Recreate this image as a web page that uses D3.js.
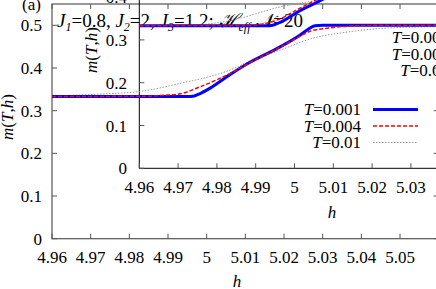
<!DOCTYPE html>
<html>
<head>
<meta charset="utf-8">
<script src="https://cdnjs.cloudflare.com/ajax/libs/d3/7.8.5/d3.min.js"></script>
<style>
  body { margin: 0; background: white; }
  svg { display: block; font-family: "Liberation Serif", "DejaVu Serif", serif; }
</style>
</head>
<body>
<svg id="chart" width="436" height="289"></svg>
<script>
// main panel, series as [h, m]
var mainT001 = [[4.96,0.3333],[4.995,0.3333],[4.9965,0.334],[4.998,0.339],[5.0009,0.3529],[5.006,0.3845],
  [5.0103,0.409],[5.019,0.4496],[5.0241,0.477],[5.0267,0.4934],[5.028,0.4993],[5.030,0.5],[5.06,0.5]];
var mainT004 = [[4.96,0.3333],[4.984,0.3338],[4.9887,0.336],[4.9931,0.3395],[4.9983,0.356],[5.006,0.387],
  [5.0105,0.409],[5.019,0.449],[5.0241,0.474],[5.0267,0.486],[5.0319,0.494],[5.0371,0.4985],[5.0448,0.5],[5.06,0.5]];
var mainT01 = [[4.96,0.3342],[4.9724,0.3389],[4.9825,0.3447],[4.9931,0.3639],[5.006,0.3951],[5.0112,0.4162],
  [5.019,0.4419],[5.0275,0.47],[5.0363,0.4842],[5.0448,0.4925],[5.0593,0.4969]];

// inset panel
var insetT001 = [[4.96,0.3333],[4.9935,0.3333],[4.9948,0.3355],[4.9963,0.341],[5.0014,0.3681],[5.0066,0.3914],[5.015,0.435]];
var insetT004 = [[4.96,0.3333],[4.986,0.3336],[4.9893,0.3345],[4.9924,0.338],[4.9963,0.3495],[5.0014,0.374],[5.0053,0.392],[5.015,0.44]];
var insetT01 = [[4.96,0.3335],[4.972,0.334],[4.9834,0.345],[4.9963,0.377],[5.0048,0.3914],[5.02,0.42]];

var mainXTicks = [4.96, 4.97, 4.98, 4.99, 5, 5.01, 5.02, 5.03, 5.04, 5.05];
var mainYTicks = [0, 0.1, 0.2, 0.3, 0.4, 0.5];
var insetXTicks = [4.96, 4.97, 4.98, 4.99, 5, 5.01, 5.02, 5.03];
var insetYTicks = [0, 0.1, 0.2, 0.3, 0.4];
var temps = ["0.001", "0.004", "0.01"];

var colors = ["#0000ff", "#ff0000", "#999999"];
var widths = [3, 1.5, 1];
var dashes = [null, "4,2", "1.5,1.5"];

var svg = d3.select("#chart");

// scales
var mx = d3.scaleLinear().domain([4.96, 5.06]).range([52, 438.7]);
var my = d3.scaleLinear().domain([0, 0.55]).range([238.7, 4]);
var ix = d3.scaleLinear().domain([4.96, 5.04]).range([139.3, 449.7]);
var iy = d3.scaleLinear().domain([0, 0.4]).range([168.3, -2.9]);

var defs = svg.append("defs");
defs.append("clipPath").attr("id", "clipMain").append("rect")
  .attr("x", 52).attr("y", 4).attr("width", 386.7).attr("height", 234.7);
defs.append("clipPath").attr("id", "clipInset").append("rect")
  .attr("x", 139.3).attr("y", -2.9).attr("width", 310.4).attr("height", 171.2);

var fs = 17;

// main frame
var mainG = svg.append("g");
mainG.append("rect")
  .attr("x", 52).attr("y", 4)
  .attr("width", 386.7).attr("height", 234.7)
  .style("fill", "none")
  .style("stroke", "#555")
  .style("stroke-width", 1.2);

mainG.selectAll(".xtb").data(mainXTicks).enter()
  .append("line")
  .attr("x1", function(d){ return mx(d); })
  .attr("x2", function(d){ return mx(d); })
  .attr("y1", 238.7).attr("y2", 233.7)
  .style("stroke", "#555");
mainG.selectAll(".xtt").data(mainXTicks).enter()
  .append("line")
  .attr("x1", function(d){ return mx(d); })
  .attr("x2", function(d){ return mx(d); })
  .attr("y1", 4).attr("y2", 9)
  .style("stroke", "#555");
mainG.selectAll(".ytl").data(mainYTicks).enter()
  .append("line")
  .attr("x1", 52).attr("x2", 57)
  .attr("y1", function(d){ return my(d); })
  .attr("y2", function(d){ return my(d); })
  .style("stroke", "#555");
mainG.selectAll(".ytr").data(mainYTicks).enter()
  .append("line")
  .attr("x1", 438.7).attr("x2", 433.7)
  .attr("y1", function(d){ return my(d); })
  .attr("y2", function(d){ return my(d); })
  .style("stroke", "#555");

mainG.selectAll(".xl").data(mainXTicks).enter()
  .append("text")
  .attr("x", function(d){ return mx(d); })
  .attr("y", 263)
  .attr("text-anchor", "middle")
  .style("font-size", fs + "px")
  .text(function(d){ return d3.format("")(d); });
mainG.selectAll(".yl").data(mainYTicks).enter()
  .append("text")
  .attr("x", 42)
  .attr("y", function(d){ return my(d) + 6; })
  .attr("text-anchor", "end")
  .style("font-size", fs + "px")
  .text(function(d){ return d3.format("")(d); });

// inset axes (only left and bottom are inside the picture)
var insG = svg.append("g");
insG.append("line")
  .attr("x1", 139.3).attr("x2", 139.3)
  .attr("y1", -3).attr("y2", 168.3)
  .style("stroke", "#000");
insG.append("line")
  .attr("x1", 139.3).attr("x2", 449.7)
  .attr("y1", 168.3).attr("y2", 168.3)
  .style("stroke", "#000");
insG.selectAll(".ixt").data(insetXTicks).enter()
  .append("line")
  .attr("x1", function(d){ return ix(d); })
  .attr("x2", function(d){ return ix(d); })
  .attr("y1", 168.3).attr("y2", 163.3)
  .style("stroke", "#555");
insG.selectAll(".iyt").data(insetYTicks).enter()
  .append("line")
  .attr("x1", 139.3).attr("x2", 144.3)
  .attr("y1", function(d){ return iy(d); })
  .attr("y2", function(d){ return iy(d); })
  .style("stroke", "#555");
insG.selectAll(".ixl").data(insetXTicks).enter()
  .append("text")
  .attr("x", function(d){ return ix(d); })
  .attr("y", 193)
  .attr("text-anchor", "middle")
  .style("font-size", fs + "px")
  .text(function(d){ return d3.format("")(d); });
insG.selectAll(".iyl").data(insetYTicks).enter()
  .append("text")
  .attr("x", 127)
  .attr("y", function(d){ return iy(d) + 6; })
  .attr("text-anchor", "end")
  .style("font-size", fs + "px")
  .text(function(d){ return d3.format("")(d); });

// labels
svg.append("text")
  .attr("x", 22).attr("y", 10)
  .style("font-size", fs + "px")
  .text("(a)");

var title = svg.append("text")
  .attr("x", 57).attr("y", 27)
  .style("font-size", "19px");
title.append("tspan").style("font-style", "italic").text("J");
title.append("tspan").style("font-style", "italic").style("font-size", "12px").attr("dy", 4).text("1");
title.append("tspan").attr("dy", -4).text("=0.8, ");
title.append("tspan").style("font-style", "italic").text("J");
title.append("tspan").style("font-style", "italic").style("font-size", "12px").attr("dy", 4).text("2");
title.append("tspan").attr("dy", -4).text("=2, ");
title.append("tspan").style("font-style", "italic").text("J");
title.append("tspan").style("font-style", "italic").style("font-size", "12px").attr("dy", 4).text("3");
title.append("tspan").attr("dy", -4).text("=1.2; ");
title.append("tspan").style("font-style", "italic").text("\u210B");
title.append("tspan").style("font-style", "italic").style("font-size", "12px").attr("dy", 4).text("eff");
title.append("tspan").attr("dy", -4).text(" ");
title.append("tspan").style("font-style", "italic").text("\u{1D4A9}");
title.append("tspan").text("=20");

function yLabel(x, y) {
  var t = svg.append("text")
    .attr("transform", "translate(" + x + "," + y + ") rotate(-90)")
    .attr("text-anchor", "middle")
    .style("font-size", fs + "px");
  t.append("tspan").style("font-style", "italic").text("m");
  t.append("tspan").text("(");
  t.append("tspan").style("font-style", "italic").text("T");
  t.append("tspan").text(",");
  t.append("tspan").style("font-style", "italic").text("h");
  t.append("tspan").text(")");
}
yLabel(13, 117);
yLabel(97, 50);

svg.append("text").attr("x", 237).attr("y", 287)
  .attr("text-anchor", "middle").style("font-size", fs + "px").style("font-style", "italic").text("h");
svg.append("text").attr("x", 332).attr("y", 218)
  .attr("text-anchor", "middle").style("font-size", fs + "px").style("font-style", "italic").text("h");

// legends
function legend(xr, y0, withSample) {
  temps.forEach(function(t, i) {
    var y = y0 + i * 16.5;
    var tx = svg.append("text")
      .attr("x", xr).attr("y", y)
      .attr("text-anchor", "end")
      .style("font-size", fs + "px");
    tx.append("tspan").style("font-style", "italic").text("T");
    tx.append("tspan").text("=" + t);
    if (withSample) {
      svg.append("line")
        .attr("x1", 373).attr("x2", 418)
        .attr("y1", y - 5.5).attr("y2", y - 5.5)
        .style("stroke", colors[i])
        .style("stroke-width", widths[i])
        .style("stroke-dasharray", dashes[i]);
    }
  });
}
legend(449, 43, false);
legend(361, 115, true);

// curves
var lineMain = d3.line()
  .x(function(d){ return mx(d[0]); })
  .y(function(d){ return my(d[1]); })
  .curve(d3.curveMonotoneX);
var lineInset = d3.line()
  .x(function(d){ return ix(d[0]); })
  .y(function(d){ return iy(d[1]); })
  .curve(d3.curveMonotoneX);

var mainSeries = [mainT01, mainT001, mainT004];
var insetSeries = [insetT01, insetT001, insetT004];
var order = [2, 0, 1];

svg.append("g").attr("clip-path", "url(#clipMain)")
  .selectAll("path").data(mainSeries).enter()
  .append("path")
  .attr("d", lineMain)
  .style("fill", "none")
  .style("stroke", function(d, i){ return colors[order[i]]; })
  .style("stroke-width", function(d, i){ return widths[order[i]]; })
  .style("stroke-dasharray", function(d, i){ return dashes[order[i]]; });

svg.append("g").attr("clip-path", "url(#clipInset)")
  .selectAll("path").data(insetSeries).enter()
  .append("path")
  .attr("d", lineInset)
  .style("fill", "none")
  .style("stroke", function(d, i){ return colors[order[i]]; })
  .style("stroke-width", function(d, i){ return widths[order[i]]; })
  .style("stroke-dasharray", function(d, i){ return dashes[order[i]]; });
</script>
</body>
</html>
